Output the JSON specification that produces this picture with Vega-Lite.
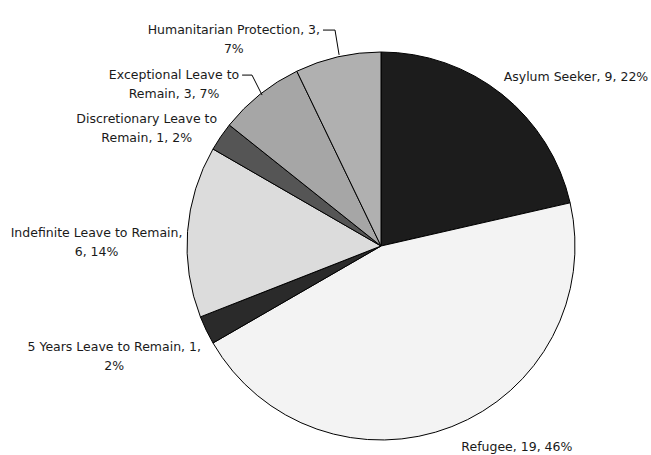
{
  "$schema": "https://vega.github.io/schema/vega-lite/v6.json",
  "width": 540,
  "height": 418,
  "autosize": {"type": "none"},
  "padding": {"left": 111, "top": 37, "right": 0, "bottom": 0},
  "background": "white",
  "config": {"view": {"stroke": null}, "text": {"font": "DejaVu Sans", "fontSize": 12.5, "fill": "#1a1a1a"}},
  "datasets": {
    "slices": [
      {"idx": 1, "category": "Asylum Seeker", "count": 9, "pct": "22%", "label": ["Asylum Seeker, 9, 22%"]},
      {"idx": 2, "category": "Refugee", "count": 19, "pct": "46%", "label": ["Refugee, 19, 46%"]},
      {"idx": 3, "category": "5 Years Leave to Remain", "count": 1, "pct": "2%", "label": ["5 Years Leave to Remain, 1,", "2%"]},
      {"idx": 4, "category": "Indefinite Leave to Remain", "count": 6, "pct": "14%", "label": ["Indefinite Leave to Remain,", "6, 14%"]},
      {"idx": 5, "category": "Discretionary Leave to Remain", "count": 1, "pct": "2%", "label": ["Discretionary Leave to", "Remain, 1, 2%"]},
      {"idx": 6, "category": "Exceptional Leave to Remain", "count": 3, "pct": "7%", "label": ["Exceptional Leave to", "Remain, 3, 7%"]},
      {"idx": 7, "category": "Humanitarian Protection", "count": 3, "pct": "7%", "label": ["Humanitarian Protection, 3,", "7%"]}
    ],
    "leaders": [
      {"line": "Humanitarian Protection", "step": 1, "u": -0.299, "v": 1.113},
      {"line": "Humanitarian Protection", "step": 2, "u": -0.237, "v": 1.113},
      {"line": "Humanitarian Protection", "step": 3, "u": -0.216, "v": 0.985},
      {"line": "Exceptional Leave to Remain", "step": 1, "u": -0.716, "v": 0.881},
      {"line": "Exceptional Leave to Remain", "step": 2, "u": -0.665, "v": 0.881},
      {"line": "Exceptional Leave to Remain", "step": 3, "u": -0.613, "v": 0.778}
    ]
  },
  "layer": [
    {
      "data": {"name": "slices"},
      "encoding": {
        "theta": {"field": "count", "type": "quantitative", "stack": true},
        "order": {"field": "idx", "type": "quantitative"}
      },
      "layer": [
        {
          "mark": {"type": "arc", "outerRadius": 194, "stroke": "black", "strokeWidth": 1},
          "encoding": {
            "color": {
              "field": "category",
              "type": "nominal",
              "legend": null,
              "scale": {
                "domain": ["Asylum Seeker", "Refugee", "5 Years Leave to Remain", "Indefinite Leave to Remain", "Discretionary Leave to Remain", "Exceptional Leave to Remain", "Humanitarian Protection"],
                "range": ["#1c1c1c", "#f3f3f3", "#2a2a2a", "#dcdcdc", "#555555", "#a6a6a6", "#b0b0b0"]
              }
            }
          }
        },
        {
          "mark": {"type": "text", "radius": 194, "align": "center", "baseline": "middle", "dx": 74, "dy": -17},
          "encoding": {"text": {"condition": {"test": "datum.idx == 1", "field": "label"}, "value": ""}}
        },
        {
          "mark": {"type": "text", "radius": 194, "align": "center", "baseline": "middle", "dx": 65, "dy": 20},
          "encoding": {"text": {"condition": {"test": "datum.idx == 2", "field": "label"}, "value": ""}}
        },
        {
          "mark": {"type": "text", "radius": 194, "align": "center", "baseline": "middle", "dx": -92, "dy": 17, "lineHeight": 19},
          "encoding": {"text": {"condition": {"test": "datum.idx == 3", "field": "label"}, "value": ""}}
        },
        {
          "mark": {"type": "text", "radius": 194, "align": "center", "baseline": "middle", "dx": -91, "dy": 1, "lineHeight": 19},
          "encoding": {"text": {"condition": {"test": "datum.idx == 4", "field": "label"}, "value": ""}}
        },
        {
          "mark": {"type": "text", "radius": 194, "align": "center", "baseline": "middle", "dx": -74, "dy": -18, "lineHeight": 19},
          "encoding": {"text": {"condition": {"test": "datum.idx == 5", "field": "label"}, "value": ""}}
        },
        {
          "mark": {"type": "text", "radius": 194, "align": "center", "baseline": "middle", "dx": -86, "dy": -19, "lineHeight": 19},
          "encoding": {"text": {"condition": {"test": "datum.idx == 6", "field": "label"}, "value": ""}}
        },
        {
          "mark": {"type": "text", "radius": 194, "align": "center", "baseline": "middle", "dx": -104, "dy": -27, "lineHeight": 19},
          "encoding": {"text": {"condition": {"test": "datum.idx == 7", "field": "label"}, "value": ""}}
        }
      ]
    },
    {
      "data": {"name": "leaders"},
      "mark": {"type": "line", "color": "black", "strokeWidth": 1},
      "encoding": {
        "x": {"field": "u", "type": "quantitative", "axis": null, "scale": {"domain": [-1.3918, 1.3918], "nice": false, "zero": false}},
        "y": {"field": "v", "type": "quantitative", "axis": null, "scale": {"domain": [-1.0773, 1.0773], "nice": false, "zero": false}},
        "detail": {"field": "line", "type": "nominal"},
        "order": {"field": "step", "type": "quantitative"}
      }
    }
  ]
}
